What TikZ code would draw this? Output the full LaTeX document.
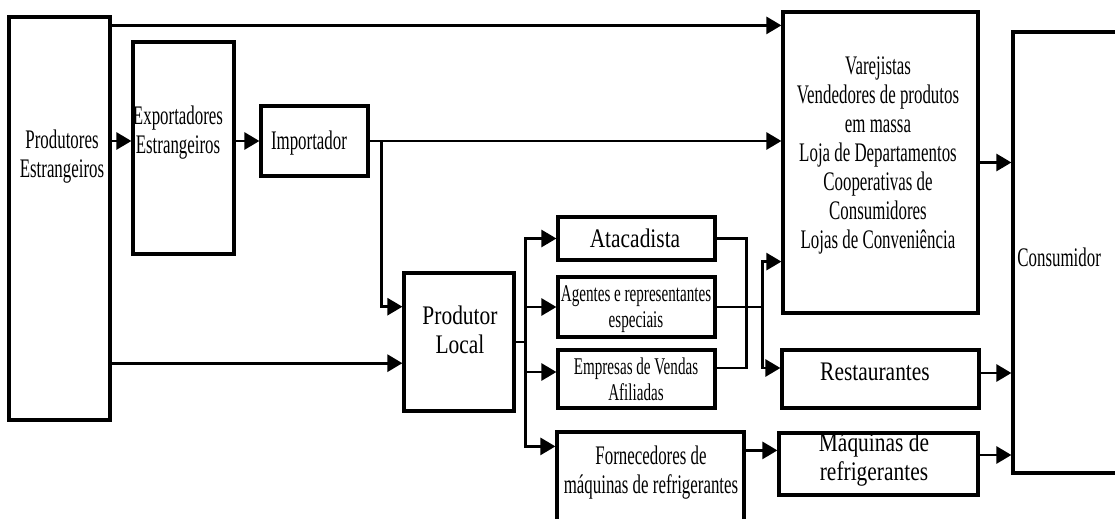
\documentclass[tikz,border=0pt]{standalone}
\usepackage{fontspec}
\setmainfont{Liberation Serif}
\newfontfamily\narrowA{Liberation Serif}[FakeStretch=0.63]
\newfontfamily\narrowB{Liberation Serif}[FakeStretch=0.8]
\usetikzlibrary{arrows.meta,positioning,fit,calc}

\begin{document}
\begin{tikzpicture}[
    x=0.5pt, y=-0.5pt,
    box/.style={draw, line width=1.6pt, inner sep=0pt},
    lbl/.style={inner sep=0pt, align=center,
        font=\narrowA\fontsize{13.4}{14.5}\selectfont},
    lblw/.style={lbl, font=\narrowB\fontsize{13.4}{14.5}\selectfont},
    lbls/.style={lbl, font=\narrowA\fontsize{12}{13}\selectfont},
    line/.style={line width=1.4pt},
    arr/.style={line, -{Triangle[length=7.5pt,width=8.5pt]}}
]
\useasboundingbox (0,0) rectangle (1115,519);
\clip (0,0) rectangle (1115,519);

\node[box, fit={(9,17) (110,420)}] (pe) {};
\node[box, fit={(133,42) (234,254)}] (ee) {};
\node[box, fit={(261,106) (368,176)}] (imp) {};
\node[box, fit={(404,273) (514,411)}] (pl) {};
\node[box, fit={(558,217) (715,260)}] (ata) {};
\node[box, fit={(558,277) (715,337)}] (ag) {};
\node[box, fit={(558,350) (715,408)}] (emp) {};
\node[box, fit={(557,432) (744,540)}] (forn) {};
\node[box, fit={(783,12) (978,313)}] (var) {};
\node[box, fit={(782,350) (979,408)}] (rest) {};
\node[box, fit={(779,433) (978,495)}] (maq) {};
\node[box, fit={(1013,32) (1140,473)}] (cons) {};

\node[lbl] (pe-t) at (62,157) {Produtores\\Estrangeiros};
\node[lbl] (ee-t) at (178,133) {Exportadores\\Estrangeiros};
\node[lbl] (imp-t) at (309,143) {Importador};
\node[lblw] (pl-t) at (460,330) {Produtor\\Local};
\node[lblw] (ata-t) at (635,238) {Atacadista};
\node[lbls] (ag-t) at (636,309) {Agentes e representantes\\especiais};
\node[lbls] (emp-t) at (636,379) {Empresas de Vendas\\Afiliadas};
\node[lbl] (forn-t) at (651,473) {Fornecedores de\\máquinas de refrigerantes};
\node[lbl] (var-t) at (878,155) {Varejistas\\Vendedores de produtos\\em massa\\Loja de Departamentos\\Cooperativas de\\Consumidores\\Lojas de Conveniência};
\node[lblw] (rest-t) at (875,372) {Restaurantes};
\node[lblw] (maq-t) at (874,460) {Máquinas de\\refrigerantes};
\node[lbl, anchor=west] (cons-t) at (1017,257) {Consumidor};

\coordinate (plin1) at ($(pl.north west)!0.25!(pl.south west)$);
\coordinate (plin2) at ($(pl.north west)!0.65!(pl.south west)$);

\draw[arr] ([yshift=-7.5pt]var.north west -| pe.east) -- ([yshift=-7.5pt]var.north west);
\draw[arr] (imp.west -| pe.east) -- (imp.west -| ee.west);
\draw[arr] (imp.west -| ee.east) -- (imp.west);
\draw[arr] (imp.east) -- (imp.east -| var.west);
\draw[arr] ([xshift=6pt]imp.east) |- (plin1);
\draw[arr] (plin2 -| pe.east) -- (plin2);

\coordinate[right=5pt of pl.east] (plj);
\draw[arr] (pl.east) -- (plj) |- (ata.west);
\draw[arr] (plj) |- (ag.west);
\draw[arr] (plj) |- ([yshift=3.5pt]emp.west);
\draw[arr] (plj) |- ([yshift=-8pt]forn.north west);

\draw[line] (ata.east) -- ++(30,0) |- ([yshift=5.5pt]emp.east);
\draw[line] (ag.east) -- ++(46,0) coordinate (agj);
\draw[arr] (agj) |- ([yshift=26.5pt]var.south west);
\draw[arr] (agj) |- ([yshift=5.5pt]rest.west);

\draw[arr] ([yshift=-10pt]forn.north east) -- ([yshift=-10pt]forn.north east -| maq.west);
\draw[arr] (var.east) -- (var.east -| cons.west);
\draw[arr] ([yshift=3pt]rest.east) -- ([yshift=3pt]rest.east -| cons.west);
\draw[arr] ([yshift=4.5pt]maq.east) -- ([yshift=4.5pt]maq.east -| cons.west);
\end{tikzpicture}
\end{document}
